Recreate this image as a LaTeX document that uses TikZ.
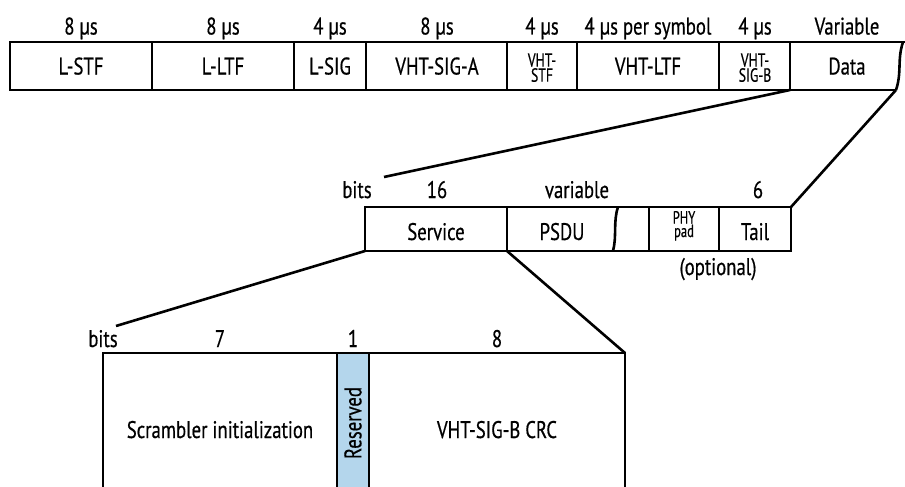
\documentclass[tikz,border=0pt]{standalone}
\usepackage{fontspec}
\setmainfont[FakeStretch=0.78,FakeBold=0.5]{PT Sans}
\newfontfamily\narrowfont[FakeStretch=0.72,FakeBold=0.5]{PT Sans}
\definecolor{resblue}{RGB}{180,214,236}
\begin{document}
\begin{tikzpicture}[x=1pt,y=-1pt,line join=miter,
  lbl/.style={font=\fontsize{24}{25}\selectfont, inner sep=0pt, anchor=base},
  two/.style={font=\narrowfont\fontsize{19}{15}\selectfont, inner sep=0pt, anchor=base},
  twos/.style={font=\narrowfont\fontsize{17.5}{14}\selectfont, inner sep=0pt, anchor=base},
  frame/.style={draw=black, line width=2.6pt}]
\useasboundingbox (0,0) rectangle (905,487);
% ---------- top row ----------
\coordinate (t0) at (10,42);
\coordinate (tE) at (905,42);
\coordinate (b0) at (10,90);
\coordinate (bE) at (896,90);
\coordinate (wt) at (903,42);
\draw[frame] (tE) -- (t0) -- (b0) -- (bE);
\foreach \x/\n in {152/a,294/b,366/c,507/d,577/e,719/f,790/g}{
  \coordinate (tt\n) at (\x,42);
  \coordinate (tb\n) at (\x,90);
  \draw[frame] (tt\n) -- (tb\n);
}
\draw[frame] (wt) .. controls (897,60) and (902,72) .. (bE);
% durations
\node[lbl] (d1) at (81,34.5) {8 µs};
\node[lbl] (d2) at (223,34.5) {8 µs};
\node[lbl] (d3) at (330,34.5) {4 µs};
\node[lbl] (d4) at (437,34.5) {8 µs};
\node[lbl] (d5) at (542,34.5) {4 µs};
\node[lbl] (d6) at (648,34.5) {4 µs per symbol};
\node[lbl] (d7) at (755,34.5) {4 µs};
\node[lbl] (d8) at (847,34.5) {Variable};
% field names
\node[lbl] (f1) at (81,74.5) {L-STF};
\node[lbl] (f2) at (223,74.5) {L-LTF};
\node[lbl] (f3) at (330,74.5) {L-SIG};
\node[lbl] (f4) at (437,74.5) {VHT-SIG-A};
\node[two] (f5a) at (542,66.7) {VHT-};
\node[two] (f5b) at (542,81.7) {STF};
\node[lbl] (f6) at (648,74.5) {VHT-LTF};
\node[two] (f7a) at (755,66.7) {VHT-};
\node[two] (f7b) at (755,81.7) {SIG-B};
\node[lbl] (f8) at (847,74.5) {Data};
% ---------- middle row ----------
\coordinate (m0) at (365,207);
\coordinate (mE) at (791,207);
\coordinate (n0) at (365,251);
\coordinate (nE) at (791,251);
\draw[frame] (m0) rectangle (nE);
\foreach \x/\n in {507/a,649/b,719/c}{
  \coordinate (mt\n) at (\x,207);
  \coordinate (mb\n) at (\x,251);
  \draw[frame] (mt\n) -- (mb\n);
}
\coordinate (mwt) at (618,207);
\coordinate (mwb) at (613,251);
\draw[frame] (mwt) .. controls (613,222) and (617,236) .. (mwb);
% expansion lines top -> middle
\coordinate (e1) at (384,177);
\draw[frame] (tbg) -- (e1);
\draw[frame] (bE) -- (mE);
\node[lbl] (mb1) at (357,198) {bits};
\node[lbl] (mb2) at (437,198) {16};
\node[lbl] (mb3) at (577,198) {variable};
\node[lbl] (mb4) at (758,198) {6};
\node[lbl] (g1) at (436,240) {Service};
\node[lbl] (g2) at (562,240) {PSDU};
\node[twos] (g3a) at (684,223.5) {PHY};
\node[twos] (g3b) at (684,237) {pad};
\node[lbl] (g4) at (755,240) {Tail};
\node[lbl] (g5) at (718,275) {(optional)};
% ---------- bottom row ----------
\coordinate (s0) at (103,353);
\coordinate (sE) at (625,353);
\coordinate (u0) at (103,492);
\coordinate (uE) at (625,492);
\fill[resblue] (337,353) rectangle (369,492);
\draw[frame] (u0) -- (s0) -- (sE) -- (uE);
\coordinate (r1t) at (337,353);
\coordinate (r1b) at (337,492);
\coordinate (r2t) at (369,353);
\coordinate (r2b) at (369,492);
\draw[frame] (r1t) -- (r1b);
\draw[frame] (r2t) -- (r2b);
\coordinate (e2) at (116,326);
\draw[frame] (n0) -- (e2);
\draw[frame] (mba) -- (sE);
\node[lbl] (h1) at (103,347) {bits};
\node[lbl] (h2) at (220,347) {7};
\node[lbl] (h3) at (353,347) {1};
\node[lbl] (h4) at (497,347) {8};
\node[lbl] (k1) at (220,438) {Scrambler initialization};
\node[lbl] (k2) at (497,438) {VHT-SIG-B CRC};
\node[font=\fontsize{24}{25}\selectfont, inner sep=0pt, rotate=90] (k3) at (353,423) {Reserved};
\end{tikzpicture}
\end{document}
